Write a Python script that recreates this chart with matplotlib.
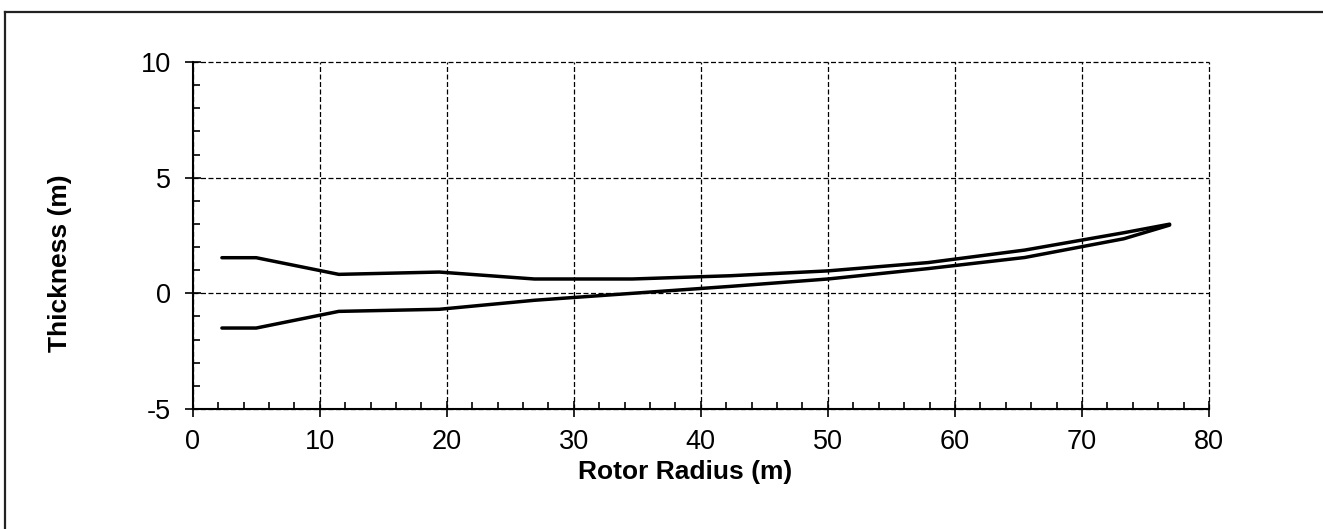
import matplotlib
matplotlib.use("Agg")
import matplotlib.pyplot as plt
from matplotlib.lines import Line2D
from matplotlib.ticker import MultipleLocator

radius = [2.3, 5.0, 11.5, 19.4, 26.9, 34.6, 42.3, 50.0, 57.9, 65.5, 73.3, 76.9]
upper = [1.54, 1.54, 0.82, 0.92, 0.62, 0.62, 0.76, 0.97, 1.33, 1.87, 2.62, 2.99]
lower = [-1.50, -1.50, -0.78, -0.69, -0.30, 0.00, 0.30, 0.62, 1.07, 1.55, 2.36, 2.95]

xticks = [0, 10, 20, 30, 40, 50, 60, 70, 80]
yticks = [-5, 0, 5, 10]

plt.rcParams['font.family'] = ['Liberation Sans', 'DejaVu Sans']
plt.rcParams['axes.unicode_minus'] = False

W, H = 1323, 529
fig = plt.figure(figsize=(W / 100, H / 100), dpi=100)
ax = fig.add_axes([192.7 / W, 1 - 409 / H, (1209 - 192.7) / W, (409 - 62) / H])

ax.plot(radius, upper, color='black', lw=2.5, solid_joinstyle='round', solid_capstyle='round', zorder=3)
ax.plot(radius, lower, color='black', lw=2.5, solid_joinstyle='round', solid_capstyle='round', zorder=3)

ax.set_xlim(0, 80)
ax.set_ylim(-5, 10)
ax.set_xticks(xticks)
ax.set_yticks(yticks)
ax.xaxis.set_minor_locator(MultipleLocator(2))
ax.yaxis.set_minor_locator(MultipleLocator(1))

ax.grid(True, which='major', color='black', linestyle=(0, (4, 2)), linewidth=0.9)
for gl in ax.get_xgridlines() + ax.get_ygridlines():
    gl.set_clip_on(False)
for s in ['top', 'right']:
    ax.spines[s].set_visible(False)
for s in ['left', 'bottom']:
    ax.spines[s].set_linewidth(1.5)

ax.tick_params(which='major', direction='inout', length=11, width=1.2, labelsize=19.5)
ax.tick_params(axis='x', which='major', pad=9)
ax.tick_params(axis='y', which='major', pad=10)
ax.tick_params(which='minor', direction='in', length=5, width=1.2)

ax.set_xlabel('Rotor Radius (m)', fontsize=19, fontweight='bold')
ax.set_ylabel('Thickness (m)', fontsize=19, fontweight='bold')
ax.xaxis.set_label_coords(0.485, -0.147)
ax.yaxis.set_label_coords(-0.119, 0.42)

# outer chart border (top and left visible)
fig.add_artist(Line2D([5 / W, 5 / W], [0, 1 - 12 / H], color='#222222', lw=1.6, transform=fig.transFigure))
fig.add_artist(Line2D([5 / W, 1], [1 - 12 / H, 1 - 12 / H], color='#222222', lw=1.6, transform=fig.transFigure))

fig.savefig('out.png', dpi=100)
